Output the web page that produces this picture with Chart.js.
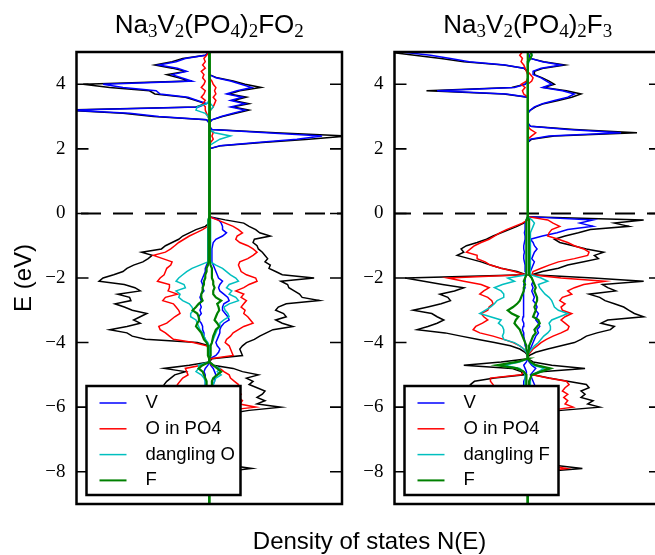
<!DOCTYPE html>
<html>
<head>
<meta charset="utf-8">
<script src="https://cdn.jsdelivr.net/npm/chart.js@4.4.1/dist/chart.umd.min.js"></script>
<style>
  html, body { margin: 0; padding: 0; background: #fff; overflow: hidden; }
  body { width: 655px; height: 555px; position: relative; }
  #left { position: absolute; left: 0; top: 0; }
  #right { position: absolute; left: 318px; top: 0; }
</style>
</head>
<body>
<canvas id="left" width="655" height="555"></canvas>
<canvas id="right" width="346" height="555"></canvas>
<script>
// Energy grids (eV)
const eCB = [2.0,2.1,2.2,2.3,2.4,2.5,2.6,2.7,2.8,2.9,3.0,3.1,3.2,3.3,3.4,3.5,3.6,3.7,3.8,3.9,4.0,4.1,4.2,4.3,4.4,4.5,4.6,4.7,4.8,4.9,5.0];
const eVB = [-0.1,-0.2,-0.3,-0.4,-0.5,-0.6,-0.7,-0.8,-0.9,-1.0,
             -1.1,-1.2,-1.3,-1.4,-1.5,-1.6,-1.7,-1.8,-1.9,-2.0,
             -2.1,-2.2,-2.3,-2.4,-2.5,-2.6,-2.7,-2.8,-2.9,-3.0,
             -3.1,-3.2,-3.3,-3.4,-3.5,-3.6,-3.7,-3.8,-3.9,-4.0,
             -4.1,-4.2,-4.3,-4.4,-4.5,-4.6,-4.7,-4.8,-4.9,-5.0,
             -5.1,-5.2,-5.3,-5.4,-5.5,-5.6,-5.7,-5.8,-5.9,-6.0,
             -6.1,-6.2,-6.3,-6.4];
const eDeep = [-8.1,-8.0,-7.9,-7.8,-7.7];
const yTicks = [-8,-6,-4,-2,0,2,4];

// Titles (text, subscript flag) and legend labels
const fo2Title = [['Na',0],['3',1],['V',0],['2',1],['(PO',0],['4',1],[')',0],['2',1],['FO',0],['2',1]];
const f3Title = [['Na',0],['3',1],['V',0],['2',1],['(PO',0],['4',1],[')',0],['2',1],['F',0],['3',1]];
const fo2Labels = ['V','O in PO4','dangling O','F'];
const f3Labels = ['V','O in PO4','dangling F','F'];
const xLabel = 'Density of states N(E)';
const yLabel = 'E (eV)';

// ---- Na3V2(PO4)2FO2 : conduction band (up = right, dn = left, magnitudes)
const fo2TotUpCB = [0,0.9,4.0,7.5,10.5,5.0,0.2,0,0,0.2,1.0,2.0,3.0,1.8,3.0,1.8,2.8,1.5,2.3,3.9,2.7,1.8,0.6,0,0,0,0,0,0,0,0];
const fo2TotDnCB = [0,0,0,0,0,0,0,0,0,0.2,4.2,6.5,11,1.0,0.3,1.0,1.8,4.1,4.5,7.5,9.5,1.5,2.3,3.2,1.8,2.8,4.1,2.8,2.0,0.3,0];
const fo2VUpCB = [0,0.8,3.6,6.6,8.5,4.3,0.2,0,0,0.2,0.9,1.8,2.7,1.6,2.7,1.6,2.5,1.3,2.1,3.2,2.4,1.6,0.5,0,0,0,0,0,0,0,0];
const fo2VDnCB = [0,0,0,0,0,0,0,0,0,0.2,3.8,6.0,10.5,0.8,0.2,0.9,1.6,3.7,4.0,6.5,8.0,1.3,2.1,2.8,1.7,2.4,3.8,2.5,1.8,0.3,0];
const fo2OUpCB = [0,0,0.1,0.3,0.2,0.3,0,0,0,0,0,0,0.1,0.3,0.4,0.5,0.3,0.5,0.4,0.5,0.3,0.2,0,0,0,0,0,0,0,0,0];
const fo2ODnCB = [0,0,0,0,0,0,0,0,0,0,0.1,0.2,0.3,0.3,0.5,0.3,0.6,0.4,0.3,0.6,0.4,0.3,0.5,0.4,0.6,0.3,0.5,0.3,0.4,0.2,0];
const fo2DUpCB = [0,0,0.4,0.8,1.6,0.4,0,0,0,0,0,0,0.1,0.3,0.1,0,0,0,0,0,0,0,0,0,0,0,0,0,0,0,0];
const fo2DDnCB = [0,0,0,0,0,0,0,0,0,0,0.1,0.3,1.0,0.9,0.2,0,0,0,0,0,0,0,0,0,0,0,0,0,0,0,0];

// ---- Na3V2(PO4)2FO2 : valence band
const fo2TotUpVB = [0,1.2,2.6,3.0,3.5,3.8,4.6,3.4,3.3,3.6,
  3.7,4.0,4.2,4.4,4.2,4.6,4.5,5.0,5.5,7.9,
  5.4,5.9,6.0,6.4,6.8,7.0,8.3,5.8,5.2,5.0,
  5.6,5.8,5.0,5.5,6.3,4.8,4.3,3.8,3.4,2.8,
  2.5,2.3,2.4,2.5,0.2,0,0.3,1.8,2.5,3.7,
  2.8,3.3,3.0,3.6,4.2,4.0,3.6,4.2,3.6,5.4,
  3.0,1.5,0.2,0];
const fo2TotDnVB = [0,0,0,0.3,1.0,1.5,2.0,2.3,2.8,3.3,
  3.6,5.1,4.3,4.6,5.0,5.7,6.2,6.5,7.2,8.0,
  8.3,6.4,5.6,5.2,6.9,6.0,5.9,7.1,6.4,5.8,
  4.7,5.2,5.7,5.2,6.2,7.5,6.2,5.8,4.8,0.9,
  0,0,0,0,0,0,1.5,3.4,1.8,2.6,
  2.9,3.2,3.4,3.3,3.4,3.8,3.2,3.6,3.0,4.5,
  2.5,1.0,0,0];
const fo2VUpVB = [0,0.7,0.9,1.0,1.0,1.3,1.0,0.5,0.3,0.25,
  0.2,0.2,0.2,0.2,0.2,0.3,0.4,0.5,0.6,0.7,
  1.0,0.8,0.7,0.8,1.1,1.4,1.5,1.1,1.0,1.0,
  1.2,1.4,1.5,1.1,0.9,0.8,0.8,0.7,0.6,0.5,
  0.6,0.8,0.7,0.5,0.05,0,0.1,0.3,0.4,0.5,
  0.4,0.4,0.3,0.4,0.3,0.4,0.3,0.4,0.3,0.5,
  0.3,0.1,0,0];
const fo2VDnVB = [0,0,0,0.05,0.1,0.1,0.1,0.1,0.1,0.1,
  0.1,0.1,0.1,0.1,0.1,0.2,0.3,0.3,0.4,0.5,
  0.6,0.5,0.5,0.4,0.6,0.7,0.6,0.7,0.6,0.7,
  0.6,0.8,0.8,0.6,0.5,0.5,0.4,0.4,0.3,0.2,
  0.1,0,0,0,0,0,0.1,0.3,0.4,0.3,
  0.3,0.3,0.3,0.3,0.3,0.3,0.3,0.3,0.3,0.4,
  0.2,0.1,0,0];
const fo2OUpVB = [0,0.6,1.2,1.8,2.2,2.5,2.1,2.0,2.3,2.9,
  3.3,3.6,3.3,2.9,2.3,2.2,2.3,2.4,2.8,3.5,
  3.6,3.0,2.6,2.0,2.6,2.4,2.8,2.6,2.4,2.7,
  2.6,2.9,3.1,3.3,2.6,2.2,1.8,1.6,1.3,1.2,
  1.5,1.6,1.7,1.8,0.1,0,0.2,0.8,1.1,1.5,
  1.6,1.9,2.2,2.3,2.0,2.4,2.2,2.5,2.3,3.5,
  1.3,0.3,0,0];
const fo2ODnVB = [0,0,0,0.1,0.5,1.0,1.5,1.9,2.3,2.6,
  2.9,3.3,4.2,3.5,2.8,2.9,3.2,3.3,3.4,3.7,
  3.9,3.0,3.0,3.1,2.4,3.3,3.5,2.7,2.5,2.3,
  2.2,2.6,2.9,3.2,3.8,3.7,3.3,3.0,2.7,1.2,
  0.2,0,0,0,0,0,0.6,1.8,1.7,1.6,
  2.0,2.2,2.4,2.3,2.2,2.5,2.3,2.6,2.2,3.0,
  1.2,0.3,0,0];
const fo2DUpVB = [0,0.1,0.1,0.1,0.1,0.1,0.1,0.1,0.1,0.1,
  0.1,0.1,0.1,0.1,0.1,0.5,1.0,1.3,1.6,2.0,
  2.2,1.5,1.3,1.7,1.5,2.0,2.2,1.5,1.1,1.2,
  1.4,1.5,1.1,0.8,0.8,0.6,0.5,0.4,0.3,0.2,
  0.1,0.1,0.1,0.1,0,0,0.3,0.8,0.6,0.9,
  0.5,0.4,0.3,0.4,0.3,0.3,0.3,0.3,0.3,0.4,
  0.2,0.1,0,0];
const fo2DDnVB = [0,0.1,0.1,0.1,0.1,0.1,0.1,0.1,0.1,0.1,
  0.1,0.1,0.1,0.1,0.1,0.7,1.3,1.7,2.0,2.3,
  2.5,1.9,1.8,2.5,2.2,2.3,2.0,1.5,1.3,1.2,
  1.4,1.4,1.0,0.9,0.8,0.7,0.5,0.4,0.3,0.1,
  0,0,0,0,0,0,0.8,0.8,1.0,0.6,
  0.4,0.3,0.3,0.3,0.3,0.3,0.3,0.3,0.3,0.3,
  0.2,0.1,0,0];
const fo2FUpVB = [0,0.05,0.05,0.05,0.05,0.05,0.05,0.05,0.05,0.05,
  0.05,0.05,0.05,0.05,0.05,0.1,0.2,0.2,0.2,0.2,
  0.3,0.3,0.4,0.3,0.3,0.5,0.9,0.6,0.7,0.75,
  0.6,0.5,0.4,0.6,0.75,0.5,0.4,0.3,0.25,0.2,
  0.1,0.1,0.1,0.1,0,0,0.3,0.6,0.9,0.6,
  0.3,0.2,0.2,0.2,0.2,0.2,0.2,0.2,0.2,0.2,
  0.1,0.05,0,0];
const fo2FDnVB = [0,0.05,0.05,0.05,0.05,0.05,0.05,0.05,0.05,0.05,
  0.05,0.05,0.05,0.05,0.05,0.1,0.2,0.2,0.3,0.3,
  0.4,0.4,0.5,0.5,0.6,0.6,0.5,0.8,1.0,1.25,
  0.9,0.8,0.75,0.9,1.0,0.8,0.6,0.5,0.4,0.2,
  0.1,0.1,0.1,0.1,0,0,0.5,0.8,0.5,0.4,
  0.3,0.2,0.2,0.2,0.2,0.2,0.2,0.2,0.2,0.2,
  0.1,0.05,0,0];

// ---- Na3V2(PO4)2FO2 : deep state near -8 eV
const fo2TotUpDeep = [0,1.0,3.2,1.5,0];
const fo2TotDnDeep = [0,0.8,2.5,1.0,0];
const fo2OUpDeep = [0,0.4,1.2,0.6,0];
const fo2ODnDeep = [0,0.3,1.0,0.5,0];

// ---- Na3V2(PO4)2F3 : conduction band
const f3TotUpCB = [0,0,0,0.3,2.0,8.2,3.5,0.2,0,0,0,0,0.2,0.6,1.2,2.3,3.3,4.0,2.9,1.2,2.0,1.6,1.1,0.5,0.5,1.2,2.8,1.2,0.2,0.1,0];
const f3TotDnCB = [0,0,0,0,0,0,0,0,0,0,0,0,0,0,0,0,0,1.8,7.6,1.2,0.2,0,0,0,0,0.3,1.8,4.8,6.5,8.5,10.5];
const f3VUpCB = [0,0,0,0.2,1.6,7.0,3.0,0.2,0,0,0,0,0.2,0.5,1.1,2.0,3.0,3.5,2.6,1.1,1.8,1.4,1.0,0.4,0.4,1.0,2.5,1.1,0.2,0.1,0];
const f3VDnCB = [0,0,0,0,0,0,0,0,0,0,0,0,0,0,0,0,0,1.6,6.8,1.0,0.2,0,0,0,0,0.3,1.7,4.4,5.8,7.3,9.5];
const f3OUpCB = [0,0,0,0,0.3,0.6,0.2,0,0,0,0,0,0,0,0,0,0,0,0,0,0,0.3,0.4,0.2,0,0,0,0,0,0,0];
const f3ODnCB = [0,0,0,0,0,0,0,0,0,0,0,0,0,0,0,0,0,0.3,0.4,0.2,0.5,0.1,0,0,0.1,0.2,0.3,0.5,0.4,0.6,0.4];
const f3DUpCB = [0,0,0,0,0,0,0,0,0,0,0,0,0,0,0,0,0,0,0,0,0,0,0,0,0,0,0,0.1,0.2,0.3,0.3];
const f3FUpCB = [0,0,0,0,0,0,0,0,0,0,0,0,0,0,0,0,0,0,0,0,0,0,0,0,0,0,0,0,0.2,0.3,0.2];

// ---- Na3V2(PO4)2F3 : valence band
const f3TotUpVB = [0,8.7,6.5,7.6,4.7,3.8,2.8,2.0,2.4,3.4,
  4.4,5.7,5.0,5.3,4.2,3.0,2.3,1.1,0.3,4.9,
  8.7,5.6,6.0,6.6,4.6,5.4,5.8,6.5,7.2,7.6,
  8.0,8.7,6.0,5.5,6.5,6.2,5.2,4.4,4.0,3.5,
  2.5,1.5,0.6,0.1,0,0.4,1.8,4.3,1.0,0.4,
  1.6,3.0,4.4,4.6,4.0,4.3,4.0,4.9,4.5,5.4,
  2.5,0.5,0,0];
const f3TotDnVB = [0,0,0.3,0.8,1.4,2.0,2.6,3.1,3.8,4.6,
  5.0,4.8,5.3,4.4,3.5,2.8,2.0,0.8,0.1,9.2,
  7.8,6.4,4.8,5.5,6.6,6.0,5.8,6.5,7.5,8.6,
  7.2,6.8,6.3,6.8,7.5,8.3,6.2,5.0,3.8,2.5,
  1.3,0.6,0.2,0,0,2.0,4.8,1.2,0.5,0.3,
  2.5,4.0,4.3,4.0,4.2,3.8,4.1,4.5,4.0,5.0,
  2.3,0.5,0,0];
const f3VUpVB = [0,4.9,3.9,4.9,3.0,2.2,1.1,0.2,0.4,0.5,
  0.7,0.5,0.4,0.3,0.5,0.4,0.3,0.2,0.1,0.3,
  0.4,0.3,0.4,0.3,0.4,0.5,0.4,0.6,0.7,0.6,
  0.8,0.7,0.6,0.8,0.9,0.7,0.8,0.6,0.5,0.4,
  0.3,0.2,0.1,0,0,0.1,0.3,0.6,0.4,0.2,
  0.3,0.4,0.5,0.6,0.4,0.3,0.3,0.3,0.3,0.4,
  0.2,0.1,0,0];
const f3VDnVB = [0,0.1,0.2,0.2,0.2,0.25,0.2,0.2,0.25,0.3,
  0.3,0.25,0.3,0.3,0.25,0.2,0.2,0.15,0.1,0.2,
  0.2,0.3,0.2,0.3,0.3,0.3,0.35,0.3,0.3,0.35,
  0.3,0.35,0.4,0.3,0.35,0.4,0.3,0.3,0.25,0.2,
  0.15,0.1,0.05,0,0,0.1,0.3,0.2,0.1,0.1,
  0.2,0.3,0.3,0.3,0.3,0.3,0.3,0.3,0.3,0.35,
  0.2,0.1,0,0];
const f3OUpVB = [0,1.5,1.9,2.4,1.8,1.6,1.5,2.3,3.0,3.5,
  4.2,4.6,4.5,3.5,2.3,1.6,1.0,0.4,0.3,2.5,
  5.8,4.2,3.5,3.0,3.3,2.6,2.4,2.8,2.5,2.6,
  3.3,2.8,2.5,2.8,3.1,3.0,2.5,1.9,1.4,1.0,
  0.7,0.4,0.2,0,0,0.2,0.6,1.6,0.8,0.4,
  1.5,2.9,3.1,2.8,2.6,3.0,2.7,3.0,2.8,3.4,
  1.6,0.3,0,0];
const f3ODnVB = [0,0,0.4,1.0,1.6,2.1,2.5,2.9,3.5,4.0,
  4.3,4.6,3.8,3.8,3.2,2.8,2.0,1.0,0.2,6.0,
  4.8,3.5,2.9,3.3,3.6,3.0,2.7,2.6,2.9,3.0,
  3.5,3.3,3.0,3.4,3.9,4.1,3.6,2.6,1.8,1.1,
  0.6,0.3,0.1,0,0,0.8,2.0,0.8,0.3,0.5,
  2.8,2.8,2.6,2.5,2.5,2.8,2.6,2.9,2.6,3.2,
  1.4,0.3,0,0];
const f3DUpVB = [0,0.3,0.5,0.4,0.3,0.2,0.2,0.2,0.2,0.2,
  0.2,0.2,0.2,0.2,0.2,0.2,0.2,0.2,0.2,1.0,
  1.5,0.8,0.9,1.1,1.3,1.6,1.8,1.9,2.0,2.3,
  3.0,2.4,1.8,1.6,1.7,1.7,1.5,1.2,1.0,0.8,
  0.5,0.3,0.1,0,0,0.2,0.4,1.2,0.8,0.3,
  0.2,0.2,0.2,0.2,0.2,0.2,0.2,0.2,0.2,0.2,
  0.1,0.1,0,0];
const f3DDnVB = [0,0.1,0.1,0.1,0.1,0.1,0.1,0.1,0.1,0.1,
  0.1,0.1,0.1,0.1,0.1,0.1,0.1,0.1,0.1,1.5,
  1.0,1.9,2.5,2.0,1.8,1.8,2.3,2.5,2.8,3.2,
  3.6,2.8,2.0,2.2,1.9,1.8,1.8,1.9,1.8,1.0,
  0.6,0.3,0.1,0,0,0.6,1.8,0.6,0.3,0.2,
  0.2,0.2,0.2,0.2,0.2,0.2,0.2,0.2,0.2,0.2,
  0.1,0.1,0,0];
const f3FUpVB = [0,0.1,0.1,0.1,0.1,0.1,0.1,0.1,0.1,0.1,
  0.1,0.1,0.1,0.1,0.1,0.1,0.1,0.1,0.1,0.3,
  0.4,0.5,0.6,0.5,0.6,0.7,0.7,0.6,0.5,0.6,
  0.5,0.4,0.8,0.9,0.7,0.5,0.6,0.4,0.3,0.2,
  0.1,0.1,0.05,0,0,0.2,0.6,1.7,1.0,0.3,
  0.2,0.1,0.1,0.1,0.1,0.1,0.1,0.1,0.1,0.1,
  0.1,0.05,0,0];
const f3FDnVB = [0,0.1,0.1,0.1,0.1,0.1,0.1,0.1,0.1,0.1,
  0.1,0.1,0.1,0.1,0.1,0.1,0.1,0.1,0.1,0.2,
  0.3,0.2,0.3,0.3,0.4,0.5,0.6,0.8,1.1,1.5,
  1.2,0.7,0.9,1.0,0.8,0.6,0.5,0.4,0.3,0.2,
  0.1,0.1,0.05,0,0,0.8,2.3,0.8,0.3,0.1,
  0.1,0.1,0.1,0.1,0.1,0.1,0.1,0.1,0.1,0.1,
  0.1,0.05,0,0];

// ---- Na3V2(PO4)2F3 : deep state near -8 eV
const f3TotUpDeep = [0,1.0,4.1,2.0,0];
const f3TotDnDeep = [0,0.8,3.0,1.5,0];
const f3OUpDeep = [0,0.6,2.9,1.5,0];
const f3ODnDeep = [0,0.5,2.0,1.0,0];

// Build one continuous line from -9 eV to 5 eV; spin down goes to the left
function buildLine(cb, vb, deep, sign) {
  const pts = [{ x: 0, y: -9 }];
  if (deep) eDeep.forEach((e, i) => pts.push({ x: sign * deep[i], y: e }));
  if (vb) for (let i = eVB.length - 1; i >= 0; i--) pts.push({ x: sign * vb[i], y: eVB[i] });
  if (cb) eCB.forEach((e, i) => pts.push({ x: sign * cb[i], y: e }));
  pts.push({ x: 0, y: 5 });
  return pts;
}

const colors = ['#000000', '#0000ff', '#ff0000', '#00bfbf', '#008000'];

function makeDatasets(series) {
  // series: [[cbUp, cbDn, vbUp, vbDn, deepUp, deepDn], ...] in order total, V, O, dangling, F
  const sets = [];
  series.forEach((s, k) => {
    const common = { borderColor: colors[k], borderWidth: k === 4 ? 2.2 : 1.5, order: 5 - k,
                     showLine: true, pointRadius: 0, fill: false };
    sets.push(Object.assign({ data: buildLine(s[0], s[2], s[4], 1) }, common));
    sets.push(Object.assign({ data: buildLine(s[1], s[3], s[5], -1) }, common));
  });
  return sets;
}

// Frame, inward ticks, dashed Fermi level, legend and texts
const deco = {
  id: 'deco',
  beforeDatasetsDraw(chart, args, o) {
    const ctx = chart.ctx, a = chart.chartArea;
    const y0 = chart.scales.y.getPixelForValue(0);
    ctx.save();
    ctx.strokeStyle = '#000';
    ctx.lineWidth = 2;
    ctx.setLineDash([20, 12]);
    ctx.lineDashOffset = o.dashOffset;
    ctx.beginPath();
    ctx.moveTo(a.left, y0);
    ctx.lineTo(a.right, y0);
    ctx.stroke();
    ctx.restore();
  },
  afterDatasetsDraw(chart, args, o) {
    const ctx = chart.ctx, a = chart.chartArea;
    ctx.save();
    ctx.strokeStyle = '#000';
    // ticks on both sides, pointing in
    ctx.lineWidth = 1.6;
    yTicks.forEach(v => {
      const y = chart.scales.y.getPixelForValue(v);
      ctx.beginPath();
      ctx.moveTo(a.left, y); ctx.lineTo(a.left + 12, y);
      ctx.moveTo(a.right - 12, y); ctx.lineTo(a.right, y);
      ctx.stroke();
    });
    // legend box
    const bx = a.left + 10, by = a.bottom - 118, bw = 154, bh = 109;
    ctx.fillStyle = '#fff';
    ctx.fillRect(bx, by, bw, bh);
    ctx.lineWidth = 2.5;
    ctx.strokeRect(bx, by, bw, bh);
    ctx.font = '18.5px "Liberation Sans", Arial, sans-serif';
    ctx.textBaseline = 'middle';
    o.labels.forEach((lab, i) => {
      const y = by + 17 + i * 25.8;
      ctx.strokeStyle = colors[i + 1];
      ctx.lineWidth = i === 3 ? 2 : 1.5;
      ctx.beginPath();
      ctx.moveTo(bx + 13, y); ctx.lineTo(bx + 40, y);
      ctx.stroke();
      ctx.fillStyle = '#000';
      ctx.fillText(lab, bx + 59, y);
    });
    // frame
    ctx.strokeStyle = '#000';
    ctx.lineWidth = 2.5;
    ctx.strokeRect(a.left, a.top, a.right - a.left, a.bottom - a.top);
    ctx.restore();
  },
  afterDraw(chart, args, o) {
    const ctx = chart.ctx, a = chart.chartArea;
    ctx.save();
    ctx.fillStyle = '#000';
    ctx.textBaseline = 'alphabetic';
    // title with subscripts
    const mainFont = '26px "Liberation Sans", Arial, sans-serif';
    const subFont = '19px "Liberation Serif", serif';
    let w = 0;
    o.title.forEach(p => { ctx.font = p[1] ? subFont : mainFont; w += ctx.measureText(p[0]).width; });
    let x = (a.left + a.right) / 2 - w / 2;
    ctx.textAlign = 'left';
    o.title.forEach(p => {
      ctx.font = p[1] ? subFont : mainFont;
      ctx.fillText(p[0], x, p[1] ? 37 : 33);
      x += ctx.measureText(p[0]).width;
    });
    if (o.axisLabels) {
      ctx.font = '24px "Liberation Sans", Arial, sans-serif';
      ctx.textAlign = 'center';
      ctx.fillText(xLabel, 369.5, 549);
      ctx.translate(31, (a.top + a.bottom) / 2);
      ctx.rotate(-Math.PI / 2);
      ctx.fillText(yLabel, 0, 0);
    }
    ctx.restore();
  }
};

function makeChart(id, series, title, labels, padRight, dashOffset, axisLabels) {
  const ctx = document.getElementById(id).getContext('2d');
  return new Chart(ctx, {
    type: 'scatter',
    data: { datasets: makeDatasets(series) },
    options: {
      responsive: false,
      animation: false,
      layout: { padding: { left: 0, right: padRight, top: 52, bottom: 51 } },
      plugins: {
        legend: { display: false },
        tooltip: { enabled: false },
        deco: { title: title, labels: labels, dashOffset: dashOffset, axisLabels: axisLabels }
      },
      scales: {
        x: { type: 'linear', min: -10, max: 10, display: false },
        y: {
          type: 'linear', min: -9, max: 5,
          afterFit: s => { s.width = 76.5; },
          afterBuildTicks: s => { s.ticks = yTicks.map(v => ({ value: v })); },
          grid: { display: false, drawTicks: false },
          border: { display: false },
          ticks: {
            padding: 11,
            color: '#000',
            font: { family: '"Liberation Serif", serif', size: 19 },
            callback: v => (v < 0 ? '\u2212' + Math.abs(v) : String(v))
          }
        }
      }
    },
    plugins: [deco]
  });
}

makeChart('left', [
  [fo2TotUpCB, fo2TotDnCB, fo2TotUpVB, fo2TotDnVB, fo2TotUpDeep, fo2TotDnDeep],
  [fo2VUpCB, fo2VDnCB, fo2VUpVB, fo2VDnVB, null, null],
  [fo2OUpCB, fo2ODnCB, fo2OUpVB, fo2ODnVB, fo2OUpDeep, fo2ODnDeep],
  [fo2DUpCB, fo2DDnCB, fo2DUpVB, fo2DDnVB, null, null],
  [null, null, fo2FUpVB, fo2FDnVB, null, null]
], fo2Title, fo2Labels, 313, 27.5, true);

makeChart('right', [
  [f3TotUpCB, f3TotDnCB, f3TotUpVB, f3TotDnVB, f3TotUpDeep, f3TotDnDeep],
  [f3VUpCB, f3VDnCB, f3VUpVB, f3VDnVB, null, null],
  [f3OUpCB, f3ODnCB, f3OUpVB, f3ODnVB, f3OUpDeep, f3ODnDeep],
  [f3DUpCB, null, f3DUpVB, f3DDnVB, null, null],
  [f3FUpCB, null, f3FUpVB, f3FDnVB, null, null]
], f3Title, f3Labels, 3, 3.5, false);
</script>
</body>
</html>
